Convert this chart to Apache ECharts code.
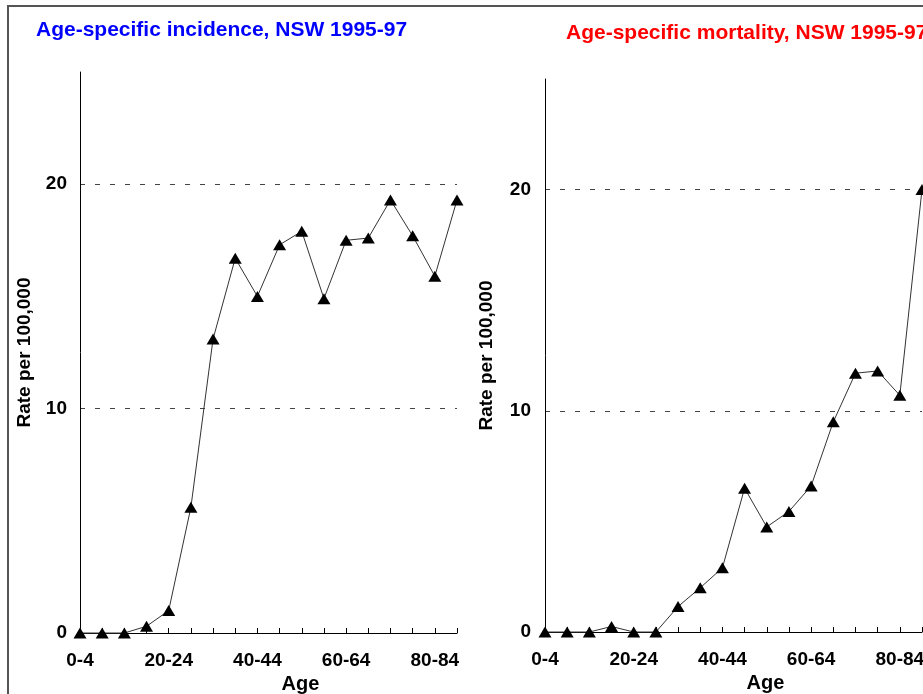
<!DOCTYPE html>
<html>
<head>
<meta charset="utf-8">
<script src="https://cdn.jsdelivr.net/npm/echarts@6/dist/echarts.min.js"></script>
<style>
  html, body { margin: 0; padding: 0; background: #ffffff; }
  #chart { width: 923px; height: 694px; }
</style>
</head>
<body>
<div id="chart"></div>
<script>
// ---- data ----
const ageGroups = ['0-4','5-9','10-14','15-19','20-24','25-29','30-34','35-39','40-44',
                   '45-49','50-54','55-59','60-64','65-69','70-74','75-79','80-84','85+'];
const incidence = [0, 0, 0, 0.3, 1.0, 5.6, 13.1, 16.7, 15.0, 17.3, 17.9, 14.9, 17.5, 17.6, 19.3, 17.7, 15.9, 19.3];
const mortality = [0, 0, 0, 0.25, 0, 0, 1.15, 2.0, 2.9, 6.5, 4.75, 5.45, 6.6, 9.5, 11.7, 11.8, 10.7, 20.0];
const titleLeft = 'Age-specific incidence, NSW 1995-97';
const titleRight = 'Age-specific mortality, NSW 1995-97';
const yAxisName = 'Rate per 100,000';
const xAxisName = 'Age';

const FONT = '"Liberation Sans", Arial, Helvetica, sans-serif';

function xAxis(gridIndex) {
  return {
    type: 'category', gridIndex: gridIndex, data: ageGroups, boundaryGap: false,
    axisLine: { lineStyle: { color: '#000', width: 1 } },
    axisTick: { show: true, inside: true, interval: 0, length: 5, lineStyle: { color: '#000' } },
    axisLabel: { interval: 3, margin: 18, color: '#000', fontFamily: FONT, fontWeight: 'bold', fontSize: 19 },
    name: xAxisName, nameLocation: 'middle', nameGap: 39,
    nameTextStyle: { color: '#000', fontFamily: FONT, fontWeight: 'bold', fontSize: 20, padding: [0, 0, 0, 64] },
    splitLine: { show: false }
  };
}
function yAxis(gridIndex, margin, gap) {
  return {
    type: 'value', gridIndex: gridIndex, min: 0, max: 25, interval: 10,
    axisLine: { show: true, lineStyle: { color: '#000', width: 1 } },
    axisTick: { show: false },
    axisLabel: { margin: margin, color: '#000', fontFamily: FONT, fontWeight: 'bold', fontSize: 19, showMaxLabel: false },
    splitLine: { show: true, showMinLine: false, showMaxLine: false, lineStyle: { color: '#444', type: [5, 10], width: 1 } },
    name: yAxisName, nameLocation: 'middle', nameGap: gap, nameRotate: 90,
    nameTextStyle: { color: '#000', fontFamily: FONT, fontWeight: 'bold', fontSize: 19 }
  };
}
function lineSeries(idx, data) {
  return {
    type: 'line', xAxisIndex: idx, yAxisIndex: idx, data: data,
    symbol: 'triangle', symbolSize: [13, 11], showAllSymbol: true,
    itemStyle: { color: '#000' },
    lineStyle: { color: '#333', width: 1 },
    animation: false, clip: false
  };
}

const chart = echarts.init(document.getElementById('chart'), null, { renderer: 'canvas' });
chart.setOption({
  backgroundColor: '#ffffff',
  animation: false,
  title: [
    { text: titleLeft, left: 36, top: 20, padding: 0, textStyle: { color: '#0000ff', fontFamily: FONT, fontWeight: 'bold', fontSize: 21 } },
    { text: titleRight, left: 566, top: 23, padding: 0, textStyle: { color: '#ff0000', fontFamily: FONT, fontWeight: 'bold', fontSize: 21 } }
  ],
  graphic: [
    { type: 'rect', shape: { x: 8, y: 6, width: 2000, height: 2000 }, style: { fill: 'none', stroke: '#555', lineWidth: 2 }, z: -1 }
  ],
  grid: [
    { left: 80, top: 72, width: 377, height: 561, containLabel: false, outerBoundsMode: 'none' },
    { left: 545, top: 79, width: 377, height: 553, containLabel: false, outerBoundsMode: 'none' }
  ],
  xAxis: [xAxis(0), xAxis(1)],
  yAxis: [yAxis(0, 13, 46), yAxis(1, 14, 49)],
  series: [lineSeries(0, incidence), lineSeries(1, mortality)]
});
</script>
</body>
</html>
